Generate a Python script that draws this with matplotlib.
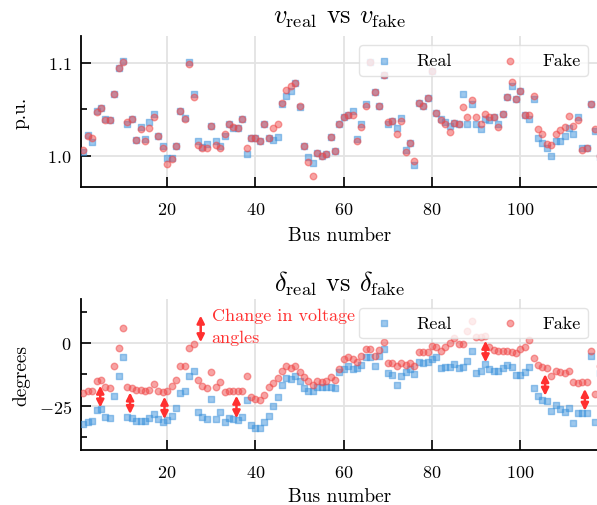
import numpy as np
import matplotlib.pyplot as plt
from matplotlib.ticker import MultipleLocator, AutoMinorLocator

# LaTeX-like look
plt.rcParams['font.family'] = 'serif'
plt.rcParams['font.serif'] = ['cmr10']
plt.rcParams['mathtext.fontset'] = 'cm'
plt.rcParams['axes.formatter.use_mathtext'] = True

bus = np.arange(1, 119)

# voltage magnitude (p.u.)
v_real = [1.004, 1.022, 1.015, 1.048, 1.051, 1.040, 1.039, 1.066, 1.094, 1.102,
          1.034, 1.040, 1.017, 1.031, 1.018, 1.036, 1.045, 1.021, 1.011, 0.998,
          0.998, 1.011, 1.048, 1.041, 1.101, 1.066, 1.016, 1.010, 1.013, 1.032,
          1.016, 1.011, 1.021, 1.034, 1.030, 1.030, 1.040, 1.002, 1.019, 1.019,
          1.016, 1.034, 1.019, 1.017, 1.020, 1.056, 1.064, 1.070, 1.078, 1.052,
          1.011, 0.999, 0.992, 1.003, 1.000, 1.002, 1.020, 1.005, 1.034, 1.042,
          1.044, 1.048, 1.018, 1.034, 1.056, 1.101, 1.069, 1.053, 1.087, 1.034,
          1.037, 1.030, 1.041, 1.006, 1.014, 0.990, 1.057, 1.054, 1.062, 1.091,
          1.046, 1.040, 1.036, 1.032, 1.035, 1.034, 1.066, 1.034, 1.056, 1.034,
          1.029, 1.040, 1.039, 1.042, 1.034, 1.045, 1.063, 1.075, 1.061, 1.070,
          1.044, 1.040, 1.061, 1.019, 1.014, 1.008, 1.000, 1.016, 1.016, 1.021,
          1.030, 1.024, 1.042, 1.008, 1.008, 1.056, 1.027, 0.999]
v_fake = [1.006, 1.021, 1.019, 1.047, 1.051, 1.039, 1.039, 1.066, 1.094, 1.101,
          1.036, 1.040, 1.017, 1.029, 1.016, 1.030, 1.042, 1.021, 1.008, 0.991,
          0.997, 1.011, 1.048, 1.040, 1.099, 1.063, 1.012, 1.009, 1.009, 1.032,
          1.012, 1.008, 1.023, 1.034, 1.031, 1.030, 1.040, 1.009, 1.019, 1.019,
          1.016, 1.034, 1.019, 1.030, 1.034, 1.057, 1.071, 1.075, 1.078, 1.054,
          1.011, 0.994, 0.979, 1.003, 1.000, 1.002, 1.020, 1.005, 1.034, 1.042,
          1.044, 1.044, 1.016, 1.031, 1.054, 1.101, 1.069, 1.053, 1.087, 1.036,
          1.037, 1.023, 1.037, 1.004, 1.014, 0.995, 1.057, 1.054, 1.062, 1.091,
          1.046, 1.038, 1.034, 1.026, 1.035, 1.034, 1.052, 1.042, 1.060, 1.042,
          1.034, 1.045, 1.042, 1.042, 1.031, 1.045, 1.063, 1.079, 1.061, 1.070,
          1.044, 1.044, 1.064, 1.029, 1.024, 1.013, 1.012, 1.024, 1.028, 1.031,
          1.043, 1.032, 1.038, 1.006, 1.008, 1.056, 1.029, 1.000]

# voltage angle (degrees)
d_real = [-32.3, -31.4, -31.1, -26.7, -26.3, -29.4, -29.9, -21.0, -13.3, -5.4,
          -29.6, -29.9, -31.0, -31.0, -31.2, -29.9, -28.3, -30.3, -31.4, -30.8,
          -29.0, -25.7, -19.9, -19.0, -13.0, -11.3, -27.6, -29.4, -30.3, -22.3,
          -30.3, -27.6, -31.4, -30.0, -30.3, -30.7, -29.4, -22.7, -32.7, -33.9,
          -34.0, -31.6, -29.0, -25.0, -21.7, -16.6, -14.0, -14.4, -13.0, -15.3,
          -17.9, -19.3, -19.3, -17.7, -17.7, -17.4, -17.4, -17.9, -11.5, -10.4,
          -9.0, -10.4, -10.0, -8.8, -5.4, -5.7, -9.0, -5.1, -2.5, -12.0,
          -12.6, -16.6, -13.0, -11.7, -10.4, -12.4, -7.7, -8.0, -7.7, -6.4,
          -5.4, -10.0, -9.7, -9.4, -8.4, -10.0, -9.4, -7.0, -3.1, -12.0,
          -11.0, -8.4, -10.4, -11.3, -11.0, -10.0, -8.6, -9.4, -12.8, -12.8,
          -11.7, -9.4, -18.1, -21.3, -22.7, -23.0, -27.0, -24.7, -26.3, -27.6,
          -25.7, -32.0, -28.0, -28.0, -28.0, -5.1, -31.6, -12.0]
d_fake = [-20.1, -19.0, -19.0, -15.2, -14.6, -17.4, -17.9, -9.3, -2.0, 5.8,
          -17.4, -17.9, -18.7, -18.9, -19.1, -18.6, -16.3, -19.0, -19.5, -19.0,
          -17.0, -14.8, -9.2, -9.2, -2.0, -0.4, -14.8, -17.0, -17.9, -11.4,
          -17.4, -15.7, -19.7, -19.0, -19.3, -19.3, -19.0, -13.0, -21.4, -22.3,
          -22.7, -20.7, -17.7, -15.9, -14.1, -11.3, -9.0, -10.0, -9.0, -11.4,
          -13.7, -15.3, -16.6, -15.3, -15.4, -15.3, -13.7, -14.8, -10.3, -6.4,
          -5.7, -6.5, -7.7, -5.3, -2.4, -2.4, -5.1, -2.7, 0.5, -8.0,
          -8.0, -9.0, -8.1, -8.6, -7.8, -9.0, -3.6, -3.7, -3.7, -1.3,
          -1.7, -3.3, -1.7, 0.1, 1.9, -0.4, -0.4, 4.9, 8.9, 2.3,
          2.3, 2.9, -1.7, -2.8, -3.1, -3.1, -3.3, -3.7, -4.1, -2.4,
          -1.5, 1.3, -6.1, -8.8, -9.7, -10.0, -13.0, -11.3, -11.4, -12.1,
          -11.3, -15.7, -16.1, -15.7, -15.7, -3.1, -20.3, -9.0]

# red double arrows marking the angle shift
arrow_bus = [4.85, 11.6, 19.4, 35.7, 92.1, 105.6, 114.6, 27.6]
arrow_top = [-17.0, -19.7, -21.4, -21.0, 0.9, -12.4, -18.3, 10.9]
arrow_bot = [-25.7, -28.3, -30.3, -30.0, -7.7, -21.0, -27.0, 0.3]

blue = '#3d93dc'
red = '#f04848'
arrow_red = '#ff3030'

fig = plt.figure(figsize=(5.97, 5.06), dpi=100)
ax1 = fig.add_axes([0.1365, 0.629, 0.8635, 0.297])
ax2 = fig.add_axes([0.1365, 0.1093, 0.8635, 0.2977])

for ax, real, fake in [(ax1, v_real, v_fake), (ax2, d_real, d_fake)]:
    ax.scatter(bus, real, marker='s', s=22, color=blue, alpha=0.5, label='Real', zorder=3)
    ax.scatter(bus, fake, marker='o', s=22, color=red, alpha=0.5, label='Fake', zorder=4)
    ax.set_xlim(0.6, 117.35)
    ax.xaxis.set_major_locator(MultipleLocator(20))
    ax.yaxis.set_minor_locator(AutoMinorLocator(2))
    ax.tick_params(which='both', direction='in', labelsize=13, width=1.2)
    ax.tick_params(which='major', length=7)
    ax.tick_params(which='minor', length=4)
    ax.tick_params(axis='x', pad=10)
    ax.tick_params(axis='y', pad=7)
    ax.spines['top'].set_visible(False)
    ax.spines['right'].set_visible(False)
    for s in ['left', 'bottom']:
        ax.spines[s].set_linewidth(1.3)
    ax.grid(True, color='#e3e3e3', lw=1.3)
    ax.set_axisbelow(True)
    ax.set_xlabel('Bus number', fontsize=14)
    ax.yaxis.set_label_coords(-0.10, 0.5)
    ax.legend(loc='upper right', ncol=2, fontsize=13, columnspacing=2.2,
              handletextpad=0.8, framealpha=0.8, edgecolor='#dddddd')

ax1.xaxis.set_label_coords(0.5, -0.26)
ax2.xaxis.set_label_coords(0.5, -0.245)

ax1.set_ylim(0.967, 1.128)
ax1.yaxis.set_major_locator(MultipleLocator(0.1))
ax1.set_ylabel('p.u.', fontsize=14)
ax1.set_title(r'$v_{\rm real}$ vs $v_{\rm fake}$', fontsize=19, pad=10)

ax2.set_ylim(-42.5, 17.5)
ax2.yaxis.set_major_locator(MultipleLocator(25))
ax2.set_ylabel('degrees', fontsize=14)
ax2.set_title(r'$\delta_{\rm real}$ vs $\delta_{\rm fake}$', fontsize=19, pad=6)

for b, y0, y1 in zip(arrow_bus, arrow_top, arrow_bot):
    ax2.annotate('', xy=(b, y1), xytext=(b, y0),
                 arrowprops=dict(arrowstyle='<|-|>', color=arrow_red, lw=1.8,
                                 mutation_scale=11, shrinkA=0, shrinkB=0), zorder=5)
ax2.text(30.1, 6.6, 'Change in voltage\nangles', color=arrow_red, fontsize=13,
         va='center', ha='left', linespacing=1.6, zorder=5)

fig.savefig('out.png', dpi=100)
